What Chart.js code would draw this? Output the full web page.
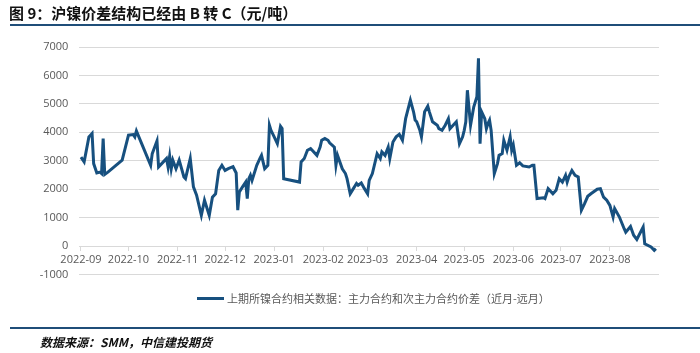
<!DOCTYPE html>
<html>
<head>
<meta charset="utf-8">
<script src="https://cdn.jsdelivr.net/npm/chart.js@4"></script>
<style>
    html, body { margin: 0; padding: 0; background: #fff; }
    #wrap { position: relative; width: 700px; height: 353px; overflow: hidden; font-family: "Noto Sans CJK SC", "Noto Sans", sans-serif; }
    #title { position: absolute; left: 9px; top: 2px; font-size: 15px; font-weight: bold; color: #111; white-space: nowrap; }
    .rule { position: absolute; left: 10px; width: 690px; height: 2px; background: #1f4e79; }
    #legend { position: absolute; left: 197px; top: 290px; font-size: 11px; color: #595959; white-space: nowrap; display: flex; align-items: center; }
    #legend span.sw { display: inline-block; width: 27px; height: 3px; background: #17507f; margin-right: 3px; }
    #source { position: absolute; left: 40px; top: 333px; font-size: 12px; font-weight: bold; font-style: italic; color: #111; white-space: nowrap; }
    #chart { position: absolute; left: 0; top: 0; }
</style>
</head>
<body>
<div id="wrap">
    <canvas id="chart" width="700" height="353"></canvas>
    <div id="title">图 9：沪镍价差结构已经由 B 转 C（元/吨）</div>
    <div class="rule" style="top:24px"></div>
    <div id="legend"><span class="sw"></span>上期所镍合约相关数据：主力合约和次主力合约价差（近月-远月）</div>
    <div class="rule" style="top:327px"></div>
    <div id="source">数据来源：SMM，中信建投期货</div>
</div>
<script>
// day 0 = 2022-09-01
const startDate = '2022-09-01';
const monthLabels = ['2022-09', '2022-10', '2022-11', '2022-12', '2023-01', '2023-02', '2023-03', '2023-04', '2023-05', '2023-06', '2023-07', '2023-08'];
const yTicks = [-1000, 0, 1000, 2000, 3000, 4000, 5000, 6000, 7000];

const dates = [
    '2022-09-01', '2022-09-03', '2022-09-06', '2022-09-07', '2022-09-08', '2022-09-09', '2022-09-11', '2022-09-13',
    '2022-09-14', '2022-09-15', '2022-09-16', '2022-09-18', '2022-09-27', '2022-10-01', '2022-10-04', '2022-10-05',
    '2022-10-06', '2022-10-08', '2022-10-15', '2022-10-16', '2022-10-19', '2022-10-20', '2022-10-23', '2022-10-25',
    '2022-10-26', '2022-10-27', '2022-10-28', '2022-10-29', '2022-10-31', '2022-11-02', '2022-11-05', '2022-11-06',
    '2022-11-09', '2022-11-11', '2022-11-13', '2022-11-16', '2022-11-18', '2022-11-21', '2022-11-23', '2022-11-25',
    '2022-11-27', '2022-11-29', '2022-12-01', '2022-12-03', '2022-12-06', '2022-12-08', '2022-12-09', '2022-12-10',
    '2022-12-12', '2022-12-14', '2022-12-15', '2022-12-16', '2022-12-17', '2022-12-18', '2022-12-21', '2022-12-23',
    '2022-12-24', '2022-12-26', '2022-12-28', '2022-12-29', '2022-12-30', '2023-01-01', '2023-01-03', '2023-01-05',
    '2023-01-06', '2023-01-07', '2023-01-17', '2023-01-18', '2023-01-20', '2023-01-22', '2023-01-24', '2023-01-25',
    '2023-01-28', '2023-01-30', '2023-01-31', '2023-02-02', '2023-02-04', '2023-02-05', '2023-02-08', '2023-02-09',
    '2023-02-10', '2023-02-13', '2023-02-15', '2023-02-16', '2023-02-18', '2023-02-20', '2023-02-22', '2023-02-23',
    '2023-02-25', '2023-02-27', '2023-03-01', '2023-03-02', '2023-03-04', '2023-03-07', '2023-03-09', '2023-03-10',
    '2023-03-12', '2023-03-14', '2023-03-15', '2023-03-17', '2023-03-19', '2023-03-21', '2023-03-23', '2023-03-25',
    '2023-03-28', '2023-03-30', '2023-03-31', '2023-04-01', '2023-04-03', '2023-04-04', '2023-04-06', '2023-04-08',
    '2023-04-09', '2023-04-11', '2023-04-14', '2023-04-15', '2023-04-17', '2023-04-19', '2023-04-21', '2023-04-22',
    '2023-04-24', '2023-04-26', '2023-04-28', '2023-04-30', '2023-05-01', '2023-05-02', '2023-05-03', '2023-05-05',
    '2023-05-07', '2023-05-09', '2023-05-10', '2023-05-11', '2023-05-12', '2023-05-14', '2023-05-15', '2023-05-16',
    '2023-05-17', '2023-05-18', '2023-05-20', '2023-05-22', '2023-05-23', '2023-05-25', '2023-05-26', '2023-05-28',
    '2023-05-30', '2023-05-31', '2023-06-01', '2023-06-03', '2023-06-05', '2023-06-07', '2023-06-11', '2023-06-13',
    '2023-06-14', '2023-06-16', '2023-06-20', '2023-06-21', '2023-06-23', '2023-06-26', '2023-06-28', '2023-06-30',
    '2023-07-02', '2023-07-04', '2023-07-05', '2023-07-06', '2023-07-08', '2023-07-10', '2023-07-12', '2023-07-14',
    '2023-07-16', '2023-07-18', '2023-07-20', '2023-07-24', '2023-07-26', '2023-07-28', '2023-07-30', '2023-08-01',
    '2023-08-03', '2023-08-04', '2023-08-07', '2023-08-10', '2023-08-11', '2023-08-14', '2023-08-16', '2023-08-18',
    '2023-08-22', '2023-08-23', '2023-08-27', '2023-08-29', '2023-08-30'
];

const spread = [
    3130, 2960, 3840, 3900, 3960, 2900, 2570, 2600,
    2550, 3780, 2520, 2600, 3020, 3900, 3920, 3840,
    4050, 3780, 2840, 3250, 3700, 2780, 2960, 3080,
    2780, 3160, 2720, 3020, 2720, 3020, 2430, 2370,
    3080, 2080, 1790, 1080, 1610, 1080, 1720, 1840,
    2660, 2840, 2660, 2720, 2790, 2570, 1260, 1900,
    2080, 2250, 1670, 2370, 2490, 2310, 2840, 3080,
    3190, 2720, 2840, 4250, 4070, 3840, 3600, 4210,
    4130, 2370, 2250, 2960, 3080, 3370, 3430, 3370,
    3190, 3480, 3720, 3780, 3720, 3630, 3480, 2840,
    3190, 2720, 2550, 2370, 1840, 2020, 2200, 2140,
    2220, 2020, 1840, 2310, 2550, 3250, 3080, 3310,
    3190, 3480, 3080, 3660, 3840, 3930, 3720, 4480,
    5130, 4720, 4430, 4370, 4070, 3840, 4720, 4920,
    4720, 4370, 4250, 4130, 4070, 4250, 4480, 4130,
    4250, 4370, 3600, 3840, 4070, 4370, 5480, 4250,
    4890, 5250, 6600, 3600, 4720, 4480, 4130, 4310,
    4430, 4070, 2550, 2900, 3190, 3250, 3720, 3370,
    3840, 3370, 3550, 2840, 2930, 2820, 2780, 2840,
    2840, 1670, 1700, 1670, 2020, 1840, 1960, 2370,
    2250, 2490, 2250, 2430, 2660, 2490, 2430, 1260,
    1490, 1750, 1840, 2000, 2020, 1720, 1610, 1430,
    1020, 1320, 1020, 610, 490, 690, 380, 230,
    670, 80, -30, -150, -90
];

const DAY = 86400000;
const t0 = Date.parse(startDate + 'T00:00:00Z');
function dayOf(s) {
    return Math.round((Date.parse(s + 'T00:00:00Z') - t0) / DAY);
}
const monthStarts = monthLabels.map(m => dayOf(m + '-01'));
const points = dates.map((d, i) => ({ x: dayOf(d), y: spread[i] }));

const axisFont = { family: '"Open Sans", "Noto Sans", sans-serif', size: 11 };
const tickColor = '#595959';
const gridColor = '#d9d9d9';

new Chart(document.getElementById('chart').getContext('2d'), {
    type: 'line',
    data: {
        datasets: [{
            label: '上期所镍合约相关数据：主力合约和次主力合约价差（近月-远月）',
            data: points,
            borderColor: '#17507f',
            borderWidth: 3,
            pointRadius: 0,
            tension: 0,
            fill: false
        }]
    },
    options: {
        responsive: false,
        animation: false,
        events: [],
        layout: { padding: { left: 0, right: 41, top: 47, bottom: 78.5 } },
        plugins: { legend: { display: false }, tooltip: { enabled: false } },
        scales: {
            x: {
                type: 'linear',
                position: { y: 0 },
                min: -1,
                max: 365,
                afterBuildTicks: scale => { scale.ticks = monthStarts.map(v => ({ value: v })); },
                ticks: {
                    autoSkip: false,
                    maxRotation: 0,
                    padding: 3,
                    color: tickColor,
                    font: axisFont,
                    callback: v => monthLabels[monthStarts.indexOf(v)]
                },
                grid: { drawOnChartArea: false, drawTicks: true, tickLength: 4, color: gridColor },
                border: { display: true, color: gridColor }
            },
            y: {
                min: -1000,
                max: 7000,
                afterBuildTicks: scale => { scale.ticks = yTicks.map(v => ({ value: v })); },
                afterFit: scale => { scale.width = 79.4; },
                ticks: { padding: 11, color: tickColor, font: axisFont, callback: v => String(v) },
                grid: { color: gridColor, drawTicks: false },
                border: { display: false }
            }
        }
    }
});
</script>
</body>
</html>
